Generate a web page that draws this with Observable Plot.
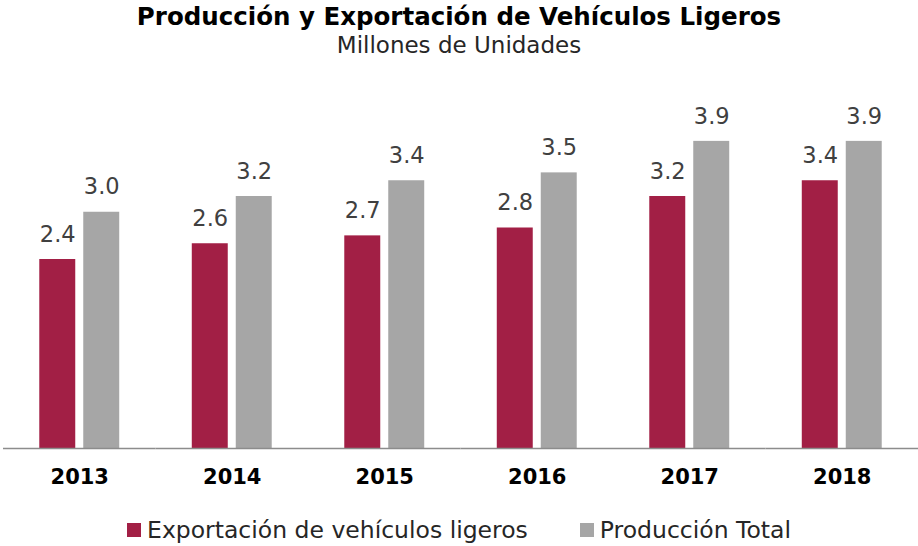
<!DOCTYPE html>
<html><head><meta charset="utf-8">
<script src="https://cdn.jsdelivr.net/npm/d3@7"></script>
<script src="https://cdn.jsdelivr.net/npm/@observablehq/plot@0.6"></script>
<style>
body{margin:0;background:#fff;font-family:"DejaVu Sans",sans-serif;}
#wrap{width:918px;}
#head{height:64px;text-align:center;}
#title{font-weight:bold;font-size:24.5px;color:#000;line-height:28px;padding-top:3px;}
#sub{font-size:23px;color:#262626;line-height:28px;padding-top:0px;}
#legend{display:flex;justify-content:center;align-items:center;font-size:23.5px;color:#262626;height:30px;margin-top:22px;padding-left:0px;}
.item{display:flex;align-items:center;margin:0 26px;}
.sw{width:14px;height:14px;margin-right:6px;}
</style></head>
<body><div id="wrap">
<div id="head"><div id="title">Producción y Exportación de Vehículos Ligeros</div><div id="sub">Millones de Unidades</div></div>
<div id="chart"></div>
<div id="legend"></div>
</div>
<script>
const years = ["2013","2014","2015","2016","2017","2018"];
const seriesNames = ["Exportación de vehículos ligeros","Producción Total"];
const exportacion = [2.4, 2.6, 2.7, 2.8, 3.2, 3.4];
const produccion = [3.0, 3.2, 3.4, 3.5, 3.9, 3.9];
const colors = ["#A21F45", "#A6A6A6"];

const data = [];
years.forEach((y,i)=>{
  data.push({year:y, series:seriesNames[0], value:exportacion[i]});
  data.push({year:y, series:seriesNames[1], value:produccion[i]});
});

const chart = Plot.plot({
  width: 918, height: 429,
  marginLeft: 3, marginRight: 0, marginTop: 69, marginBottom: 45,
  style:{fontFamily:'"DejaVu Sans",sans-serif', background:"#fff"},
  fx:{domain:years, padding:0, paddingOuter:0, label:null, round:false},
  x:{domain:seriesNames, paddingInner:0.182, paddingOuter:0.825, axis:null, round:false},
  y:{domain:[0,4], axis:null},
  color:{domain:seriesNames, range:colors},
  marks:[
    Plot.barY(data,{fx:"year", x:"series", y:"value", fill:"series"}),
    Plot.text(data,{fx:"year", x:"series", y:"value", text:d=>d.value.toFixed(1), dy:-25, fontSize:22.5, fill:"#404040"}),
    Plot.ruleY([0],{stroke:"#8c8c8c", strokeWidth:1.5}),
    Plot.axisFx({anchor:"bottom", tickSize:0, tickPadding:21, fontSize:21, fontWeight:"bold", fill:"#000", label:null})
  ]
});
document.getElementById("chart").append(chart);

const leg = document.getElementById("legend");
seriesNames.forEach((s,i)=>{
  const it = document.createElement("div"); it.className="item";
  const sw = document.createElement("div"); sw.className="sw"; sw.style.background=colors[i];
  const t = document.createElement("span"); t.textContent=s;
  it.append(sw,t); leg.append(it);
});
</script>
</body></html>
